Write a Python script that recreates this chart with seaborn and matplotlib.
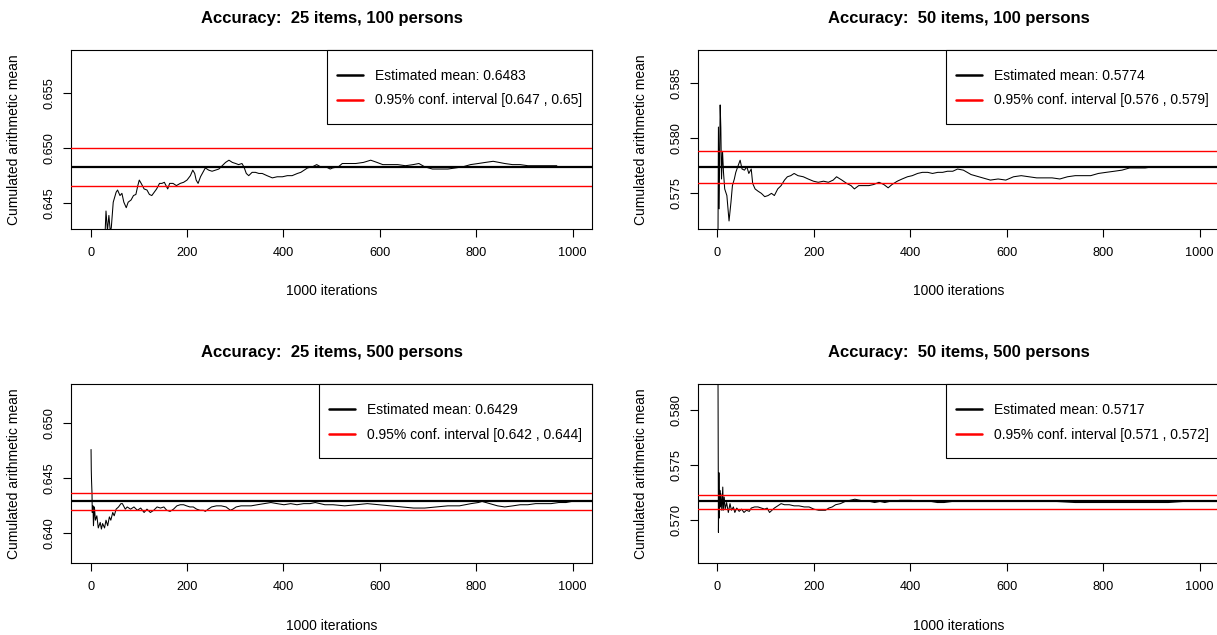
import matplotlib
matplotlib.use("Agg")
import matplotlib.pyplot as plt
import seaborn as sns
from matplotlib.lines import Line2D
from matplotlib.patches import Rectangle
from matplotlib.ticker import MultipleLocator, FormatStrFormatter

sns.set_style("white")
plt.rcParams["font.family"] = ["Liberation Sans", "DejaVu Sans"]
plt.rcParams["text.color"] = "black"
plt.rcParams["axes.labelcolor"] = "black"
plt.rcParams["xtick.color"] = "black"
plt.rcParams["ytick.color"] = "black"

# ---------------- data ----------------
titles = [
    "Accuracy:  25 items, 100 persons",
    "Accuracy:  50 items, 100 persons",
    "Accuracy:  25 items, 500 persons",
    "Accuracy:  50 items, 500 persons",
]
x_label = "1000 iterations"
y_label = "Cumulated arithmetic mean"

est_means = [0.6483, 0.5774, 0.6429, 0.5717]
ci_low = [0.6466, 0.5759, 0.6421, 0.57105]
ci_high = [0.6500, 0.5788, 0.64365, 0.57229]
ci_text = ["[0.647 , 0.65]", "[0.576 , 0.579]", "[0.642 , 0.644]", "[0.571 , 0.572]"]

# 25 items, 100 persons
iter_a = [1, 20, 30, 32, 35, 38, 41, 43, 47, 53, 56, 61, 65, 69, 74, 78, 84, 89, 94, 98,
          101, 105, 111, 117, 122, 127, 132, 137, 143, 148, 153, 160, 164, 171, 178, 186,
          193, 200, 207, 212, 216, 219, 223, 228, 233, 238, 245, 252, 259, 266, 273, 280,
          287, 294, 301, 307, 314, 318, 323, 328, 335, 342, 349, 356, 366, 377, 387, 398,
          408, 418, 429, 436, 443, 450, 460, 469, 477, 488, 497, 502, 514, 522, 534, 550,
          566, 581, 594, 606, 621, 637, 653, 669, 681, 693, 709, 725, 741, 757, 772, 788,
          804, 819, 835, 847, 859, 875, 891, 907, 923, 939, 955, 967]
mean_a = [0.6380, 0.6410, 0.6422, 0.6443, 0.6425, 0.6439, 0.6424, 0.6428, 0.6451, 0.6460,
          0.6462, 0.6457, 0.6459, 0.6451, 0.6446, 0.6451, 0.6453, 0.6457, 0.6458, 0.6466,
          0.6471, 0.6468, 0.6463, 0.6462, 0.6458, 0.6457, 0.6460, 0.6463, 0.6468, 0.6468,
          0.6469, 0.6463, 0.6468, 0.6468, 0.6466, 0.6468, 0.6469, 0.6471, 0.6475, 0.6480,
          0.6477, 0.6471, 0.6468, 0.6474, 0.6478, 0.6482, 0.6480, 0.6479, 0.6480, 0.6481,
          0.6484, 0.6487, 0.6489, 0.6487, 0.6486, 0.6485, 0.6486, 0.6483, 0.6477, 0.6475,
          0.6478, 0.6478, 0.6477, 0.6477, 0.6475, 0.6473, 0.6474, 0.6474, 0.6475, 0.6475,
          0.6477, 0.6478, 0.6480, 0.6482, 0.6483, 0.6485, 0.6483, 0.6483, 0.6481, 0.6482,
          0.6483, 0.6486, 0.6486, 0.6486, 0.6487, 0.6489, 0.6487, 0.6485, 0.6485, 0.6485,
          0.6484, 0.6485, 0.6486, 0.6483, 0.6481, 0.6481, 0.6481, 0.6482, 0.6483, 0.6485,
          0.6486, 0.6487, 0.6488, 0.6487, 0.6486, 0.6485, 0.6485, 0.6484, 0.6484, 0.6484,
          0.6484, 0.6484]

# 50 items, 100 persons
iter_b = [1, 2, 3.5, 5.6, 7, 8.4, 10.5, 12.5, 15, 19.5, 24, 28, 31, 35, 38, 42, 47, 51, 56,
          61, 65, 70, 73, 78, 84, 91, 98, 105, 112, 118, 125, 132, 139, 145, 152, 159, 167,
          178, 188, 199, 209, 220, 230, 240, 247, 258, 268, 277, 284, 293, 303, 314, 324,
          335, 345, 354, 362, 373, 383, 394, 404, 415, 425, 436, 446, 457, 467, 477, 488,
          498, 510, 526, 550, 566, 582, 598, 614, 630, 646, 662, 678, 694, 710, 726, 742,
          758, 774, 790, 806, 823, 839, 855, 871, 887, 903, 919, 935, 951, 967, 983, 999]
mean_b = [0.5700, 0.5810, 0.5736, 0.5830, 0.5809, 0.5763, 0.5788, 0.5769, 0.5754, 0.5748,
          0.5725, 0.5742, 0.5757, 0.5763, 0.5769, 0.5774, 0.5780, 0.5772, 0.5771, 0.5774,
          0.5768, 0.5772, 0.5759, 0.5754, 0.5752, 0.5750, 0.5747, 0.5748, 0.5750, 0.5748,
          0.5754, 0.5757, 0.5762, 0.5765, 0.5766, 0.5768, 0.5766, 0.5765, 0.5763, 0.5761,
          0.5760, 0.5761, 0.5760, 0.5762, 0.5765, 0.5762, 0.5759, 0.5757, 0.5754, 0.5757,
          0.5757, 0.5757, 0.5758, 0.5760, 0.5758, 0.5755, 0.5758, 0.5761, 0.5763, 0.5765,
          0.5766, 0.5768, 0.5769, 0.5769, 0.5768, 0.5769, 0.5769, 0.5770, 0.5770, 0.5772,
          0.5771, 0.5767, 0.5764, 0.5762, 0.5763, 0.5762, 0.5765, 0.5766, 0.5765, 0.5764,
          0.5764, 0.5764, 0.5763, 0.5765, 0.5766, 0.5766, 0.5766, 0.5768, 0.5769, 0.5770,
          0.5771, 0.5773, 0.5773, 0.5773, 0.5774, 0.5774, 0.5774, 0.5774, 0.5774, 0.5774,
          0.5774]

# 25 items, 500 persons
iter_c = [1, 1.5, 2, 3, 3.5, 5, 6, 8, 10, 13, 16, 20, 22.5, 25, 29, 32, 35.5, 39, 42, 46,
          49, 53, 58, 63, 66, 72, 76, 83, 90, 97, 104, 111, 117, 124, 131, 138, 145, 152,
          158, 165, 172, 179, 186, 193, 199, 206, 213, 220, 227, 234, 238, 244, 251, 261,
          271, 281, 290, 295, 302, 312, 322, 333, 346, 360, 374, 387, 401, 415, 428, 442,
          455, 466, 476, 486, 503, 527, 551, 574, 598, 622, 646, 670, 693, 717, 741, 765,
          789, 804, 812, 828, 844, 859, 876, 891, 907, 923, 939, 955, 971, 986, 998]
mean_c = [0.6476, 0.6457, 0.6448, 0.6436, 0.6419, 0.6425, 0.6407, 0.6424, 0.6412, 0.6416,
          0.6405, 0.6410, 0.6404, 0.6409, 0.6405, 0.6412, 0.6407, 0.6415, 0.6412, 0.6419,
          0.6416, 0.6422, 0.6424, 0.6427, 0.6427, 0.6422, 0.6424, 0.6422, 0.6424, 0.6421,
          0.6423, 0.6419, 0.6422, 0.6419, 0.6421, 0.6424, 0.6423, 0.6424, 0.6421, 0.6420,
          0.6422, 0.6425, 0.6426, 0.6426, 0.6425, 0.6424, 0.6424, 0.6422, 0.6421, 0.6421,
          0.6420, 0.6422, 0.6424, 0.6425, 0.6425, 0.6424, 0.6421, 0.6422, 0.6424, 0.6425,
          0.6425, 0.6425, 0.6426, 0.6427, 0.6428, 0.6427, 0.6426, 0.6427, 0.6426, 0.6427,
          0.6427, 0.6428, 0.6427, 0.6426, 0.6426, 0.6425, 0.6426, 0.6427, 0.6426, 0.6425,
          0.6424, 0.6423, 0.6423, 0.6424, 0.6425, 0.6425, 0.6427, 0.6428, 0.6429, 0.6427,
          0.6425, 0.6424, 0.6425, 0.6426, 0.6426, 0.6427, 0.6427, 0.6427, 0.6428, 0.6428,
          0.6429]

# 50 items, 500 persons
iter_d = [1, 2, 3, 4, 5, 6, 7, 9, 11, 12, 14, 16, 19, 22.5, 26, 29, 33, 36, 40, 45, 50,
          55, 60, 66, 70, 77, 84, 91, 98, 103, 108, 113, 118, 125, 132, 139, 149, 159, 169,
          180, 190, 200, 210, 217, 224, 231, 238, 245, 255, 265, 275, 285, 296, 306, 316,
          326, 337, 347, 357, 367, 378, 388, 402, 415, 429, 443, 456, 470, 487, 502, 542,
          582, 622, 662, 702, 742, 774, 807, 839, 871, 903, 935, 967, 979]
mean_d = [0.5850, 0.5689, 0.5743, 0.5702, 0.5727, 0.5712, 0.5724, 0.5709, 0.5730, 0.5709,
          0.5721, 0.5710, 0.5716, 0.5707, 0.5715, 0.5709, 0.5712, 0.5707, 0.5711, 0.5708,
          0.5710, 0.5707, 0.5709, 0.5708, 0.5711, 0.5712, 0.5712, 0.5711, 0.5710, 0.5711,
          0.5707, 0.5709, 0.5711, 0.5713, 0.5715, 0.5714, 0.5714, 0.5713, 0.5713, 0.5712,
          0.5712, 0.5710, 0.5709, 0.5709, 0.5709, 0.5711, 0.5712, 0.5714, 0.5715, 0.5717,
          0.5718, 0.5719, 0.5718, 0.5717, 0.5717, 0.5716, 0.5717, 0.5716, 0.5717, 0.5717,
          0.5718, 0.5718, 0.5718, 0.5717, 0.5717, 0.5717, 0.5716, 0.5716, 0.5717, 0.5717,
          0.5717, 0.5717, 0.5717, 0.5717, 0.5717, 0.5716, 0.5716, 0.5716, 0.5716, 0.5716,
          0.5716, 0.5716, 0.5717, 0.5717]

series_x = [iter_a, iter_b, iter_c, iter_d]
series_y = [mean_a, mean_b, mean_c, mean_d]

# ---------------- layout ----------------
W, H = 1217, 635
fig = plt.figure(figsize=(W / 100, H / 100), dpi=100)
ax_w = 520.7 / W
ax_h = 179.0 / H
lefts = [71.3 / W, 698.2 / W]
bottoms = [(H - 228.7) / H, (H - 563.3) / H]
positions = [
    [lefts[0], bottoms[0], ax_w, ax_h],
    [lefts[1], bottoms[0], ax_w, ax_h],
    [lefts[0], bottoms[1], ax_w, ax_h],
    [lefts[1], bottoms[1], ax_w, ax_h],
]

for i in range(4):
    ax = fig.add_axes(positions[i])
    m = est_means[i]
    sns.lineplot(x=series_x[i], y=series_y[i], ax=ax, color="black",
                 linewidth=0.75, sort=False, estimator=None, zorder=2)
    ax.axhline(m, color="black", linewidth=1.6, zorder=3)
    ax.axhline(ci_low[i], color="#ff0000", linewidth=1.0, zorder=3)
    ax.axhline(ci_high[i], color="#ff0000", linewidth=1.0, zorder=3)

    lo, hi = m - 0.005, m + 0.01
    pad = 0.04 * (hi - lo)
    ax.set_ylim(lo - pad, hi + pad)
    ax.set_xlim(-39.96, 1039.96)

    ax.set_xticks([0, 200, 400, 600, 800, 1000])
    ax.yaxis.set_major_locator(MultipleLocator(0.005))
    ax.yaxis.set_major_formatter(FormatStrFormatter("%.3f"))
    ax.tick_params(axis="both", direction="out", length=5.8, width=0.8,
                   colors="black", labelcolor="black", labelsize=9.2,
                   left=True, bottom=True)
    ax.tick_params(axis="x", pad=7.2)
    ax.tick_params(axis="y", pad=5.6)
    for lab in ax.get_yticklabels():
        lab.set_rotation(90)
        lab.set_va("center")
    for sp in ax.spines.values():
        sp.set_visible(True)
        sp.set_color("black")
        sp.set_linewidth(0.8)

    ax.set_xlabel(x_label, fontsize=10, color="black")
    ax.set_ylabel(y_label, fontsize=10, color="black")
    ax.xaxis.set_label_coords(0.5, -0.31)
    ax.yaxis.set_label_coords(-0.097, 0.5)
    ax.set_title(titles[i], fontsize=12, fontweight="bold", pad=19.5, color="black")

    handles = [Line2D([], [], color="black", linewidth=1.8),
               Line2D([], [], color="#ff0000", linewidth=1.8)]
    labels = ["Estimated mean: %.4f" % m, "0.95% conf. interval " + ci_text[i]]
    leg = ax.legend(handles, labels, loc="upper right",
                    bbox_to_anchor=(1.0, 1.0 - 9.3 / 179.0),
                    bbox_transform=ax.transAxes, borderaxespad=0, borderpad=0.7,
                    frameon=False, fontsize=10, handlelength=1.92,
                    handletextpad=0.86, labelspacing=0.77)
    for t in leg.get_texts():
        t.set_color("black")
    leg.set_zorder(6)
    fig.canvas.draw()
    bb = leg.get_window_extent()
    x0 = ax.transAxes.inverted().transform((bb.x0, bb.y0))[0]
    box_h = 74.0 / 179.0
    ax.add_patch(Rectangle((x0, 1.0 - box_h), 1.0 - x0, box_h,
                           transform=ax.transAxes, facecolor="white",
                           edgecolor="black", linewidth=0.8, zorder=5,
                           clip_on=False))

fig.savefig("out.png", dpi=100)
